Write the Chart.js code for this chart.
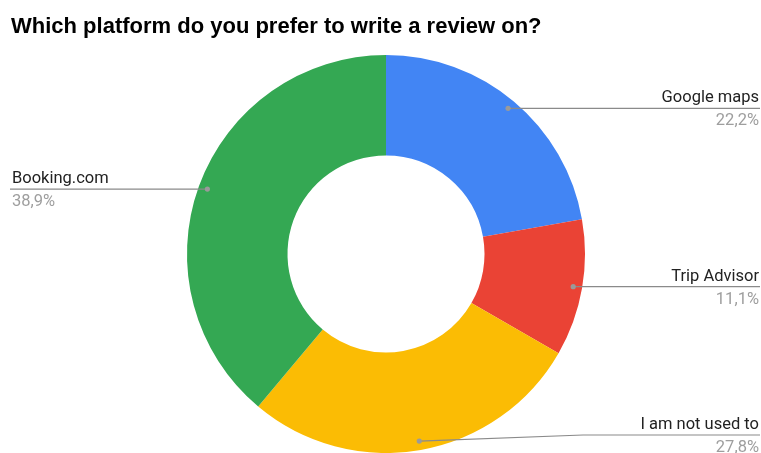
<!DOCTYPE html>
<html>
<head>
<meta charset="utf-8">
<script src="https://cdn.jsdelivr.net/npm/chart.js@4/dist/chart.umd.min.js"></script>
<style>
html,body{margin:0;padding:0;background:#fff;}
#wrap{width:761px;height:453px;position:relative;}
</style>
</head>
<body>
<div id="wrap"><canvas id="c" width="761" height="453"></canvas></div>
<script>
const chartTitle = "Which platform do you prefer to write a review on?";
const categories = ["Google maps", "Trip Advisor", "I am not used to", "Booking.com"];
const values = [22.2, 11.1, 27.8, 38.9];
const percentLabels = ["22,2%", "11,1%", "27,8%", "38,9%"];
const colors = ["#4285F4", "#EA4335", "#FBBC04", "#34A853"];

const labelPlugin = {
  id: 'labelPlugin',
  afterDraw(chart) {
    const ctx = chart.ctx;
    const W = chart.width, H = chart.height;
    ctx.save();
    // title
    ctx.font = "bold 22px 'Liberation Sans', Arial, sans-serif";
    ctx.fillStyle = "#000";
    ctx.textAlign = "left";
    ctx.textBaseline = "alphabetic";
    ctx.fillText(chartTitle, 11, 33);

    const meta = chart.getDatasetMeta(0);
    meta.data.forEach((arc, i) => {
      const p = arc.getProps(['x','y','startAngle','endAngle','outerRadius'], true);
      const mid = (p.startAngle + p.endAngle) / 2;
      const r = p.outerRadius * 0.955;
      const dx = p.x + Math.cos(mid) * r;
      const dy = p.y + Math.sin(mid) * r;
      const right = Math.cos(mid) >= 0;
      let lineY = Math.min(dy, H - 18);
      ctx.strokeStyle = "#8a8a8a";
      ctx.lineWidth = 1.2;
      ctx.beginPath();
      ctx.moveTo(dx, dy);
      if (right) {
        if (Math.abs(lineY - dy) > 0.5) {
          ctx.lineTo(chart.chartArea.right - 2, lineY);
        }
        ctx.lineTo(W - 1, lineY);
      } else {
        if (Math.abs(lineY - dy) > 0.5) {
          ctx.lineTo(chart.chartArea.left + 2, lineY);
        }
        ctx.lineTo(10, lineY);
      }
      ctx.stroke();
      ctx.fillStyle = "#9a9a9a";
      ctx.beginPath();
      ctx.arc(dx, dy, 2.6, 0, Math.PI * 2);
      ctx.fill();

      ctx.font = "16.5px Roboto, Arial, sans-serif";
      ctx.textAlign = right ? "right" : "left";
      const tx = right ? W - 2 : 12;
      ctx.fillStyle = "#222";
      ctx.fillText(chart.data.labels[i], tx, lineY - 6);
      ctx.fillStyle = "#9e9e9e";
      ctx.fillText(percentLabels[i], tx, lineY + 17);
    });
    ctx.restore();
  }
};

new Chart(document.getElementById('c'), {
  type: 'doughnut',
  data: {
    labels: categories,
    datasets: [{
      data: values,
      backgroundColor: colors,
      borderWidth: 0
    }]
  },
  options: {
    responsive: false,
    animation: false,
    cutout: '49.5%',
    layout: { padding: { top: 55, left: 187, right: 176, bottom: 0 } },
    plugins: {
      legend: { display: false },
      tooltip: { enabled: false },
      title: { display: false }
    }
  },
  plugins: [labelPlugin]
});
</script>
</body>
</html>
